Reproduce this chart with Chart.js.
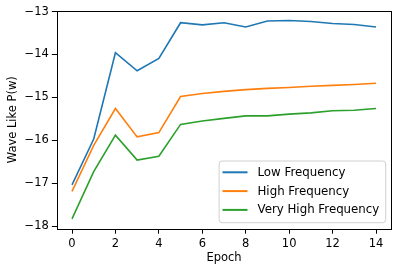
<!DOCTYPE html>
<html>
<head>
<meta charset="utf-8">
<script src="https://cdn.jsdelivr.net/npm/chart.js@4/dist/chart.umd.min.js"></script>
<style>
  html, body { margin: 0; padding: 0; background: #fff; }
  #wrap { width: 398px; height: 272px; }
</style>
</head>
<body>
<div id="wrap"><canvas id="myChart" width="398" height="272"></canvas></div>
<script>
(() => {
  'use strict'

  // values
  var epochs = [0, 1, 2, 3, 4, 5, 6, 7, 8, 9, 10, 11, 12, 13, 14];
  var low_freq = [-17.04, -15.97, -13.96, -14.38, -14.09, -13.26, -13.31, -13.26, -13.36, -13.22, -13.21, -13.23, -13.28, -13.30, -13.36];
  var high_freq = [-17.19, -16.12, -15.26, -15.92, -15.82, -14.98, -14.91, -14.86, -14.82, -14.79, -14.77, -14.74, -14.72, -14.70, -14.67];
  var very_high_freq = [-17.83, -16.73, -15.88, -16.46, -16.37, -15.63, -15.55, -15.49, -15.43, -15.43, -15.39, -15.36, -15.31, -15.30, -15.26];
  var series_names = ['Low Frequency', 'High Frequency', 'Very High Frequency'];
  var series_colors = ['#1f77b4', '#ff7f0e', '#2ca02c'];
  var x_ticks = [0, 2, 4, 6, 8, 10, 12, 14];
  var y_ticks = [-18, -17, -16, -15, -14, -13];

  const FONT = 'DejaVu Sans';
  const fontSize = 11.5;
  const legendFontSize = 11.8;

  function pts(vals) {
    return epochs.map((e, i) => ({ x: e, y: vals[i] }));
  }
  var all_series = [low_freq, high_freq, very_high_freq];

  // frame round the axes + legend box in lower right, matplotlib style
  const framePlugin = {
    id: 'frame',
    afterDraw(chart) {
      const { ctx, chartArea: a } = chart;
      ctx.save();
      ctx.strokeStyle = '#000';
      ctx.lineWidth = 1;
      ctx.strokeRect(Math.round(a.left) + 0.5, Math.round(a.top) + 0.5,
        Math.round(a.right - a.left), Math.round(a.bottom - a.top));

      // legend
      ctx.font = legendFontSize + 'px "' + FONT + '"';
      const rowH = 18.8;
      const sample = 25;
      let tw = 0;
      chart.data.datasets.forEach(d => { tw = Math.max(tw, ctx.measureText(d.label).width); });
      const w = 3.4 + sample + 10 + tw + 6.4;
      const h = 61.7;
      const x0 = a.right - 5.5 - w;
      const y0 = a.bottom - 6 - h;
      ctx.beginPath();
      ctx.roundRect(x0, y0, w, h, 3);
      ctx.fillStyle = 'rgba(255,255,255,0.8)';
      ctx.fill();
      ctx.strokeStyle = '#d0d0d0';
      ctx.stroke();
      ctx.textBaseline = 'middle';
      chart.data.datasets.forEach((d, i) => {
        const cy = y0 + 11.3 + i * rowH;
        ctx.beginPath();
        ctx.moveTo(x0 + 3.4, cy);
        ctx.lineTo(x0 + 3.4 + sample, cy);
        ctx.strokeStyle = d.borderColor;
        ctx.lineWidth = 2;
        ctx.stroke();
        ctx.fillStyle = '#000';
        ctx.fillText(d.label, x0 + 3.4 + sample + 10, cy + 0.5);
      });
      ctx.restore();
    }
  };

  const ctx = document.getElementById('myChart');
  // eslint-disable-next-line no-unused-vars
  const myChart = new Chart(ctx, {
    type: 'line',
    data: {
      datasets: all_series.map((vals, i) => ({
        label: series_names[i],
        data: pts(vals),
        borderColor: series_colors[i],
        backgroundColor: series_colors[i],
        borderWidth: 1.6,
        pointRadius: 0,
        tension: 0,
        fill: false
      }))
    },
    options: {
      responsive: false,
      animation: false,
      layout: { padding: { top: 10.7, right: 6.8, left: 0, bottom: 0 } },
      plugins: {
        legend: { display: false },
        tooltip: { enabled: false }
      },
      scales: {
        x: {
          type: 'linear',
          min: -0.7,
          max: 14.7,
          afterBuildTicks: s => { s.ticks = x_ticks.map(v => ({ value: v })); },
          afterFit: s => { s.height = 43.3; },
          grid: { drawOnChartArea: false, drawTicks: true, tickLength: 5, color: '#000' },
          border: { display: false },
          ticks: {
            color: '#000',
            padding: 3,
            maxRotation: 0,
            font: { family: FONT, size: fontSize },
            callback: v => String(v)
          },
          title: {
            display: true,
            text: 'Epoch',
            color: '#000',
            font: { family: FONT, size: fontSize },
            padding: { top: 0, bottom: 7 }
          }
        },
        y: {
          min: -18.06,
          max: -12.98,
          afterBuildTicks: s => { s.ticks = y_ticks.map(v => ({ value: v })); },
          afterFit: s => { s.width = 56.8; },
          grid: { drawOnChartArea: false, drawTicks: true, tickLength: 5, color: '#000' },
          border: { display: false },
          ticks: {
            color: '#000',
            padding: 3,
            font: { family: FONT, size: fontSize },
            callback: v => String(v).replace('-', '\u2212')
          },
          title: {
            display: true,
            text: 'Wave Like P(w)',
            color: '#000',
            font: { family: FONT, size: fontSize },
            padding: { top: 6, bottom: 0 }
          }
        }
      }
    },
    plugins: [framePlugin]
  });
})()
</script>
</body>
</html>
